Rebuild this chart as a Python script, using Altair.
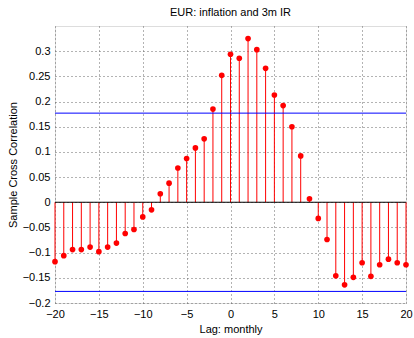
import altair as alt
import pandas as pd

lags = list(range(-20, 21))
xcorr = [-0.118, -0.106, -0.094, -0.094, -0.089, -0.098, -0.089, -0.081, -0.062, -0.054,
         -0.029, -0.015, 0.017, 0.038, 0.068, 0.087, 0.108, 0.126, 0.185, 0.252,
         0.294, 0.286, 0.325, 0.303, 0.266, 0.213, 0.192, 0.150, 0.092, 0.007,
         -0.032, -0.074, -0.146, -0.164, -0.149, -0.120, -0.147, -0.124, -0.113, -0.120,
         -0.124]
bound = 0.177
x_ticks = [-20, -15, -10, -5, 0, 5, 10, 15, 20]
y_ticks = [-0.2, -0.15, -0.1, -0.05, 0, 0.05, 0.1, 0.15, 0.2, 0.25, 0.3]

df = pd.DataFrame({"lag": lags, "xcorr": xcorr, "zero": [0.0] * len(lags)})
bounds = pd.DataFrame({"b": [bound, -bound]})
zero = pd.DataFrame({"z": [0.0]})

FONT = "Liberation Sans"
LBL = "replace(format(datum.value, '~g'), '-', '\u2212')"
xs = alt.Scale(domain=[-20, 20], nice=False, zero=False)
ys = alt.Scale(domain=[-0.2, 0.35], nice=False, zero=False)

common = dict(grid=True, gridDash=[1, 3], gridColor="#666",
              tickSize=0, labelFontSize=11, titleFontSize=11,
              labelFont=FONT, titleFont=FONT, titleFontWeight="normal",
              labelColor="black", titleColor="black", domain=False,
              labelFlush=False, labelOverlap=False, labelExpr=LBL)

x_axis = alt.Axis(values=x_ticks, title="Lag: monthly",
                  labelPadding=5, titlePadding=4, **common)
y_axis = alt.Axis(values=y_ticks, title="Sample Cross Correlation",
                  labelPadding=5, titlePadding=4, **common)

stems = alt.Chart(df).mark_rule(color="red", strokeWidth=1).encode(
    x=alt.X("lag:Q", scale=xs, axis=x_axis),
    y=alt.Y("xcorr:Q", scale=ys, axis=y_axis), y2="zero:Q")
dots = alt.Chart(df).mark_circle(color="red", size=32, opacity=1).encode(
    x=alt.X("lag:Q", scale=xs, axis=x_axis),
    y=alt.Y("xcorr:Q", scale=ys, axis=y_axis))
blue = alt.Chart(bounds).mark_rule(color="#0000ff", strokeWidth=1).encode(
    y=alt.Y("b:Q", scale=ys, axis=y_axis))
zline = alt.Chart(zero).mark_rule(color="black", strokeWidth=1.2).encode(
    y=alt.Y("z:Q", scale=ys, axis=y_axis))

chart = alt.layer(stems, blue, zline, dots).properties(
    width=351, height=277,
    title=alt.TitleParams("EUR: inflation and  3m IR", fontSize=11, font=FONT,
                          fontWeight="normal", color="black", offset=8),
    autosize=alt.AutoSizeParams(type="none"),
    padding={"left": 55, "top": 26, "right": 8, "bottom": 35},
).configure_view(stroke="black", strokeWidth=1.2).configure(background="white")

chart.save("out.html", embed_options={"renderer": "svg", "actions": False})
